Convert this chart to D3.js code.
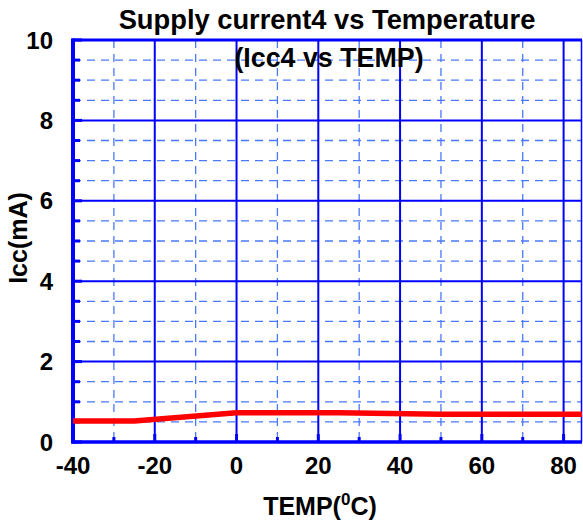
<!DOCTYPE html>
<html><head><meta charset="utf-8">
<script src="https://cdn.jsdelivr.net/npm/d3@7"></script>
<style>body{margin:0;background:#fff;overflow:hidden}svg{display:block}text{font-family:"Liberation Sans",Arial,sans-serif;font-weight:bold;fill:#000}</style>
</head><body>
<script>
const temps = [-40, -25, 0, 25, 50, 84.5];
const icc = [0.52, 0.52, 0.73, 0.73, 0.69, 0.69];
const xTicks = [-40, -20, 0, 20, 40, 60, 80];
const xMinor = [-30, -10, 10, 30, 50, 70];
const yTicks = [0, 2, 4, 6, 8, 10];
const yMinor = [0.5,1,1.5,2.5,3,3.5,4.5,5,5.5,6.5,7,7.5,8.5,9,9.5];

const W = 583, H = 528;
const svg = d3.select("body").append("svg").attr("width", W).attr("height", H);
const x = d3.scaleLinear().domain([-40, 84.5]).range([73, 582]);
const y = d3.scaleLinear().domain([0, 10]).range([442, 40]);
const blue = "#0000ff", dash = "#4a78ff";

// minor grid
svg.append("g").selectAll("line").data(xMinor).join("line")
  .attr("x1", d => x(d)).attr("x2", d => x(d)).attr("y1", y(10)).attr("y2", y(0))
  .attr("stroke", dash).attr("stroke-width", 1.3).attr("stroke-dasharray", "8,6");
svg.append("g").selectAll("line").data(yMinor).join("line")
  .attr("x1", x(-40)).attr("x2", x(84.5)).attr("y1", d => y(d)).attr("y2", d => y(d))
  .attr("stroke", dash).attr("stroke-width", 1.3).attr("stroke-dasharray", "8,6");
// major grid
svg.append("g").selectAll("line").data(xTicks.slice(1)).join("line")
  .attr("x1", d => x(d)).attr("x2", d => x(d)).attr("y1", y(10)).attr("y2", y(0))
  .attr("stroke", blue).attr("stroke-width", 2);
svg.append("g").selectAll("line").data(yTicks.slice(1, -1)).join("line")
  .attr("x1", x(-40)).attr("x2", x(84.5)).attr("y1", d => y(d)).attr("y2", d => y(d))
  .attr("stroke", blue).attr("stroke-width", 2);
// right border
svg.append("line").attr("x1", x(84.5) - 0.5).attr("x2", x(84.5) - 0.5).attr("y1", y(10)).attr("y2", y(0))
  .attr("stroke", blue).attr("stroke-width", 1.5);

// inward ticks
svg.append("g").selectAll("line").data(yMinor).join("line")
  .attr("x1", x(-40)).attr("x2", x(-40) + 7).attr("y1", d => y(d)).attr("y2", d => y(d))
  .attr("stroke", blue).attr("stroke-width", 3);
svg.append("g").selectAll("line").data(yTicks).join("line")
  .attr("x1", x(-40)).attr("x2", x(-40) + 9).attr("y1", d => y(d)).attr("y2", d => y(d))
  .attr("stroke", blue).attr("stroke-width", 3);
svg.append("g").selectAll("line").data(xMinor).join("line")
  .attr("x1", d => x(d)).attr("x2", d => x(d)).attr("y1", y(0)).attr("y2", y(0) - 5)
  .attr("stroke", blue).attr("stroke-width", 3);
svg.append("g").selectAll("line").data(xTicks).join("line")
  .attr("x1", d => x(d)).attr("x2", d => x(d)).attr("y1", y(0)).attr("y2", y(0) - 8)
  .attr("stroke", blue).attr("stroke-width", 3);

// frame
svg.append("line").attr("x1", x(-40) - 1.5).attr("x2", x(84.5)).attr("y1", y(10)).attr("y2", y(10))
  .attr("stroke", blue).attr("stroke-width", 3);
svg.append("line").attr("x1", x(-40) - 1.5).attr("x2", x(84.5)).attr("y1", y(0)).attr("y2", y(0))
  .attr("stroke", blue).attr("stroke-width", 3.5);
svg.append("line").attr("x1", x(-40)).attr("x2", x(-40)).attr("y1", y(10) - 1.5).attr("y2", y(0) + 1.5)
  .attr("stroke", blue).attr("stroke-width", 4);

// data line
svg.append("path").datum(temps.map((t, i) => [t, icc[i]]))
  .attr("d", d3.line().x(d => x(d[0])).y(d => y(d[1])))
  .attr("fill", "none").attr("stroke", "#ff0000").attr("stroke-width", 5.5);

// tick labels
svg.append("g").selectAll("text").data(yTicks).join("text")
  .attr("x", 53).attr("y", d => y(d)).attr("dy", "0.36em").attr("text-anchor", "end")
  .attr("font-size", 24).text(d => d);
svg.append("g").selectAll("text").data(xTicks).join("text")
  .attr("x", d => x(d)).attr("y", 474).attr("text-anchor", "middle")
  .attr("font-size", 24).text(d => d);

// titles
svg.append("text").attr("x", 327).attr("y", 29).attr("text-anchor", "middle").attr("font-size", 27.3)
  .text("Supply current4 vs Temperature");
svg.append("text").attr("x", 329).attr("y", 67).attr("text-anchor", "middle").attr("font-size", 26.8)
  .text("(Icc4 vs TEMP)");
const xl = svg.append("text").attr("x", 320).attr("y", 515).attr("text-anchor", "middle").attr("font-size", 25);
xl.append("tspan").text("TEMP(");
xl.append("tspan").attr("dy", -10).attr("font-size", 17).text("0");
xl.append("tspan").attr("dy", 10).text("C)");
svg.append("text").attr("transform", "translate(27,238) rotate(-90)").attr("text-anchor", "middle")
  .attr("font-size", 25).text("Icc(mA)");
</script>
</body></html>
